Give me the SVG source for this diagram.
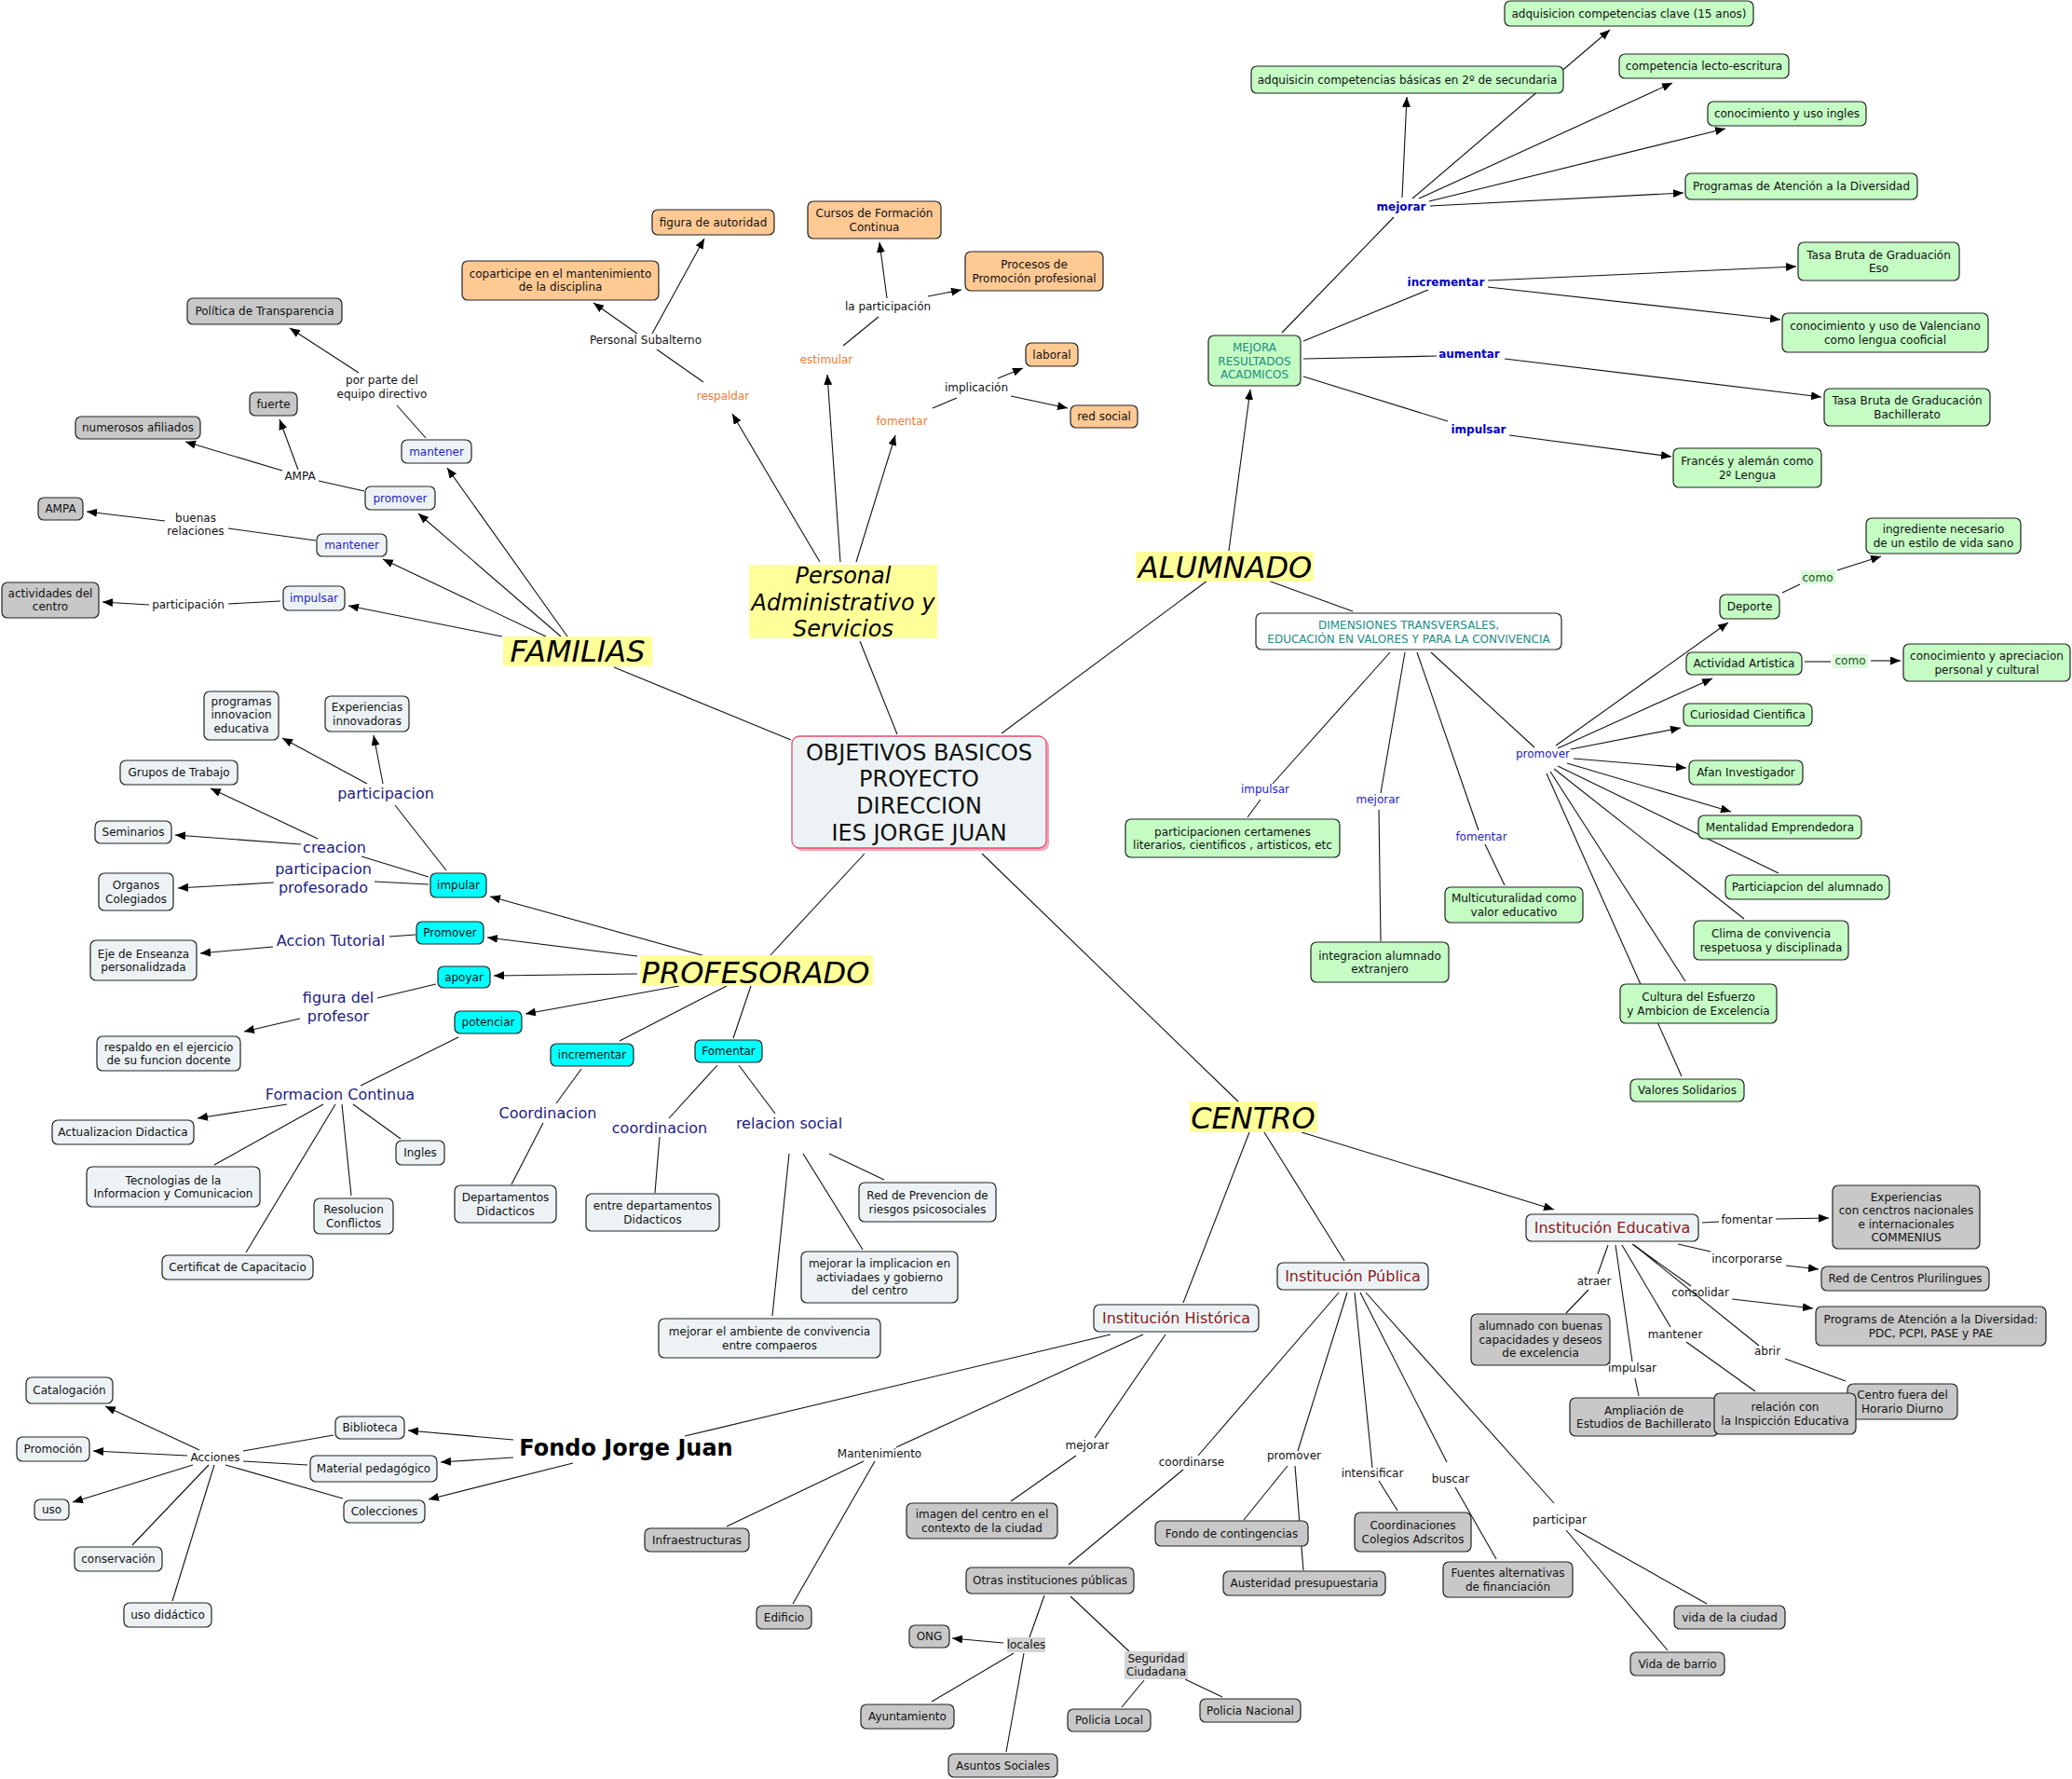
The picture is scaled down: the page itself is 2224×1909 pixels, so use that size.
<svg xmlns="http://www.w3.org/2000/svg" width="2224" height="1909" viewBox="0 0 2224 1909">
<defs>
<marker id="ah" markerUnits="userSpaceOnUse" markerWidth="12" markerHeight="10" refX="11" refY="4.5" orient="auto"><path d="M0,0 L11,4.5 L0,9 z" fill="#000"/></marker>
<style>
text{font-family:"DejaVu Sans","Liberation Sans",sans-serif;font-size:12px;fill:#111;text-anchor:middle}
.n{stroke:#222;stroke-width:1.2}
.gy{fill:#c8c8c8}
.lt{fill:#edf3f5}
.or{fill:#ffc994}
.gn{fill:#c4fcc4}
.cy{fill:#00ffff}
.wh{fill:#ffffff}
.e{stroke:#111;stroke-width:1.1;fill:none}
.a{marker-end:url(#ah)}
.bl{fill:#2424c8}
.nv{fill:#1c1c80;font-size:16px}
.bb{fill:#0000c8;font-weight:bold}
.og{fill:#ee7b30}
.tl{fill:#238b82}
.dr{fill:#8a1a1a;font-size:16px}
.big{font-size:32px;font-style:italic;fill:#000}
.pas{font-size:24px;font-style:italic;fill:#000}
.hl{fill:#ffff99}
.cm{fill:#0a5a0a}
</style>
</defs>
<rect width="2224" height="1909" fill="#fff"/>
<g id="connectors">
<path class="e a" d="M539 683L374 650"/>
<path class="e a" d="M586 683L411 600"/>
<path class="e a" d="M602 683L449 551"/>
<path class="e a" d="M609 683L480 502"/>
<path class="e" d="M457 470L426 435"/>
<path class="e a" d="M385 400L311 352"/>
<path class="e" d="M391 527L342 516"/>
<path class="e a" d="M320 504L300 450"/>
<path class="e a" d="M303 505L199 474"/>
<path class="e" d="M339 580L245 567"/>
<path class="e a" d="M177 559L93 549"/>
<path class="e" d="M301 645L245 648"/>
<path class="e a" d="M160 649L110 646"/>
<path class="e" d="M659 716L849 794"/>
<path class="e a" d="M880 603L786 444"/>
<path class="e" d="M755 410L705 375"/>
<path class="e a" d="M684 358L637 325"/>
<path class="e a" d="M700 358L756 256"/>
<path class="e a" d="M902 603L888 402"/>
<path class="e" d="M905 371L943 340"/>
<path class="e a" d="M952 320L944 260"/>
<path class="e a" d="M996 318L1032 311"/>
<path class="e a" d="M919 603L961 467"/>
<path class="e" d="M1001 438L1027 427"/>
<path class="e a" d="M1071 406L1098 395"/>
<path class="e a" d="M1085 425L1146 438"/>
<path class="e" d="M923 688L963 788"/>
<path class="e" d="M1075 787L1296 623"/>
<path class="e a" d="M1319 591L1342 418"/>
<path class="e" d="M1376 357L1496 233"/>
<path class="e a" d="M1505 212L1510 104"/>
<path class="e a" d="M1516 213L1728 32"/>
<path class="e a" d="M1523 213L1795 89"/>
<path class="e a" d="M1534 216L1852 138"/>
<path class="e a" d="M1535 221L1807 207"/>
<path class="e" d="M1399 366L1533 311"/>
<path class="e a" d="M1597 301L1928 286"/>
<path class="e a" d="M1597 308L1911 343"/>
<path class="e" d="M1399 385L1542 382"/>
<path class="e a" d="M1615 385L1955 426"/>
<path class="e" d="M1399 404L1554 452"/>
<path class="e a" d="M1620 467L1794 490"/>
<path class="e" d="M1361 623L1452 656"/>
<path class="e" d="M1492 700L1366 841"/>
<path class="e" d="M1353 858L1339 877"/>
<path class="e" d="M1508 700L1482 851"/>
<path class="e" d="M1480 869L1482 1010"/>
<path class="e" d="M1521 700L1587 891"/>
<path class="e" d="M1594 906L1615 950"/>
<path class="e" d="M1536 700L1647 802"/>
<path class="e a" d="M1670 800L1855 668"/>
<path class="e a" d="M1672 803L1838 728"/>
<path class="e a" d="M1686 804L1804 781"/>
<path class="e a" d="M1689 814L1810 824"/>
<path class="e a" d="M1682 819L1858 871"/>
<path class="e" d="M1672 822L1909 937"/>
<path class="e" d="M1668 825L1872 986"/>
<path class="e" d="M1664 828L1809 1053"/>
<path class="e" d="M1660 830L1805 1155"/>
<path class="e" d="M1913 636L1932 627"/>
<path class="e a" d="M1972 612L2019 597"/>
<path class="e" d="M1937 710L1965 710"/>
<path class="e a" d="M2008 709L2040 709"/>
<path class="e" d="M928 916L826 1026"/>
<path class="e a" d="M757 1026L526 962"/>
<path class="e a" d="M684 1026L523 1006"/>
<path class="e a" d="M684 1045L530 1047"/>
<path class="e a" d="M729 1058L564 1088"/>
<path class="e" d="M780 1058L665 1117"/>
<path class="e" d="M806 1058L787 1114"/>
<path class="e" d="M479 934L424 864"/>
<path class="e a" d="M394 841L303 792"/>
<path class="e a" d="M411 841L401 789"/>
<path class="e" d="M460 941L388 919"/>
<path class="e a" d="M341 900L226 846"/>
<path class="e a" d="M323 906L188 896"/>
<path class="e" d="M460 949L402 946"/>
<path class="e a" d="M294 947L191 953"/>
<path class="e" d="M446 1003L418 1005"/>
<path class="e a" d="M293 1016L215 1023"/>
<path class="e" d="M468 1056L405 1071"/>
<path class="e a" d="M322 1093L262 1107"/>
<path class="e" d="M492 1113L387 1165"/>
<path class="e a" d="M308 1185L212 1200"/>
<path class="e" d="M347 1185L230 1250"/>
<path class="e" d="M360 1185L264 1344"/>
<path class="e" d="M367 1185L377 1283"/>
<path class="e" d="M379 1185L430 1222"/>
<path class="e" d="M624 1147L597 1184"/>
<path class="e" d="M583 1205L549 1271"/>
<path class="e" d="M770 1143L718 1200"/>
<path class="e" d="M708 1220L703 1280"/>
<path class="e" d="M793 1143L832 1195"/>
<path class="e" d="M847 1238L829 1412"/>
<path class="e" d="M862 1238L926 1341"/>
<path class="e" d="M890 1238L949 1266"/>
<path class="e" d="M1054 916L1330 1183"/>
<path class="e" d="M1341 1215L1270 1398"/>
<path class="e" d="M1357 1215L1443 1353"/>
<path class="e a" d="M1397 1215L1668 1298"/>
<path class="e" d="M1192 1432L735 1541"/>
<path class="e" d="M1227 1432L962 1553"/>
<path class="e" d="M1251 1432L1175 1543"/>
<path class="e" d="M1155 1562L1085 1611"/>
<path class="e" d="M927 1568L780 1638"/>
<path class="e" d="M939 1568L851 1721"/>
<path class="e a" d="M551 1545L438 1535"/>
<path class="e a" d="M551 1564L473 1569"/>
<path class="e a" d="M615 1570L460 1609"/>
<path class="e" d="M358 1540L261 1557"/>
<path class="e" d="M330 1572L261 1568"/>
<path class="e" d="M368 1608L242 1572"/>
<path class="e a" d="M214 1556L113 1509"/>
<path class="e a" d="M201 1562L100 1557"/>
<path class="e a" d="M207 1572L78 1612"/>
<path class="e" d="M224 1572L142 1658"/>
<path class="e" d="M230 1572L185 1718"/>
<path class="e" d="M1437 1387L1286 1562"/>
<path class="e" d="M1270 1577L1147 1679"/>
<path class="e" d="M1121 1712L1105 1757"/>
<path class="e a" d="M1077 1763L1022 1758"/>
<path class="e" d="M1088 1774L1000 1826"/>
<path class="e" d="M1099 1774L1080 1880"/>
<path class="e" d="M1149 1713L1213 1773"/>
<path class="e" d="M1228 1803L1204 1832"/>
<path class="e" d="M1272 1802L1312 1821"/>
<path class="e" d="M1446 1387L1393 1557"/>
<path class="e" d="M1382 1573L1335 1631"/>
<path class="e" d="M1390 1573L1399 1685"/>
<path class="e" d="M1454 1387L1473 1575"/>
<path class="e" d="M1480 1589L1500 1621"/>
<path class="e" d="M1460 1387L1553 1569"/>
<path class="e" d="M1562 1596L1606 1673"/>
<path class="e" d="M1466 1387L1668 1613"/>
<path class="e" d="M1690 1641L1832 1721"/>
<path class="e" d="M1681 1642L1790 1771"/>
<path class="e" d="M1827 1312L1845 1311"/>
<path class="e a" d="M1906 1308L1963 1307"/>
<path class="e" d="M1801 1335L1836 1343"/>
<path class="e a" d="M1917 1358L1952 1362"/>
<path class="e" d="M1752 1335L1815 1380"/>
<path class="e a" d="M1859 1394L1946 1404"/>
<path class="e" d="M1754 1336L1888 1444"/>
<path class="e" d="M1916 1458L1981 1482"/>
<path class="e" d="M1741 1336L1793 1424"/>
<path class="e" d="M1810 1440L1884 1493"/>
<path class="e" d="M1734 1336L1752 1461"/>
<path class="e" d="M1755 1479L1759 1498"/>
<path class="e" d="M1726 1336L1715 1367"/>
<path class="e" d="M1705 1384L1681 1409"/>
</g>

<g id="center"><rect x="853" y="793" width="273" height="120" rx="8" fill="#f6a6b8"/><rect x="850" y="790" width="273" height="120" rx="8" fill="#edf3f5" stroke="#e0506e" stroke-width="1.3"/>
<text style="font-size:24px" x="986.5" y="815.5">OBJETIVOS BASICOS</text><text style="font-size:24px" x="986.5" y="844">PROYECTO</text><text style="font-size:24px" x="986.5" y="873">DIRECCION</text><text style="font-size:24px" x="986.5" y="901.5">IES JORGE JUAN</text></g>

<g id="familias"><rect class="hl" x="540" y="683" width="160" height="32"/><text class="big" x="620" y="710">FAMILIAS</text></g>
<g id="pas"><rect class="hl" x="804" y="606" width="202" height="79"/><text class="pas" x="905" y="626">Personal</text><text class="pas" x="905" y="655">Administrativo y</text><text class="pas" x="905" y="683">Servicios</text></g>
<g id="alumnado"><rect class="hl" x="1219" y="592" width="191" height="32"/><text class="big" x="1315" y="620">ALUMNADO</text></g>
<g id="profesorado"><rect class="hl" x="687" y="1025" width="250" height="33"/><text class="big" x="811" y="1055">PROFESORADO</text></g>
<g id="centro"><rect class="hl" x="1277" y="1182" width="137" height="33"/><text class="big" x="1345" y="1211">CENTRO</text></g>
<g id="fondo"><text x="672" y="1562" style="font-size:24px;font-weight:bold;fill:#000">Fondo Jorge Juan</text></g>

<g id="n-politica"><rect class="n gy" x="201" y="320" width="166" height="28" rx="6"/><text x="284" y="338">Política de Transparencia</text></g>
<g id="n-fuerte"><rect class="n gy" x="268" y="421" width="51" height="25" rx="6"/><text x="293.5" y="437.5">fuerte</text></g>
<g id="n-numerosos"><rect class="n gy" x="81" y="447" width="134" height="24" rx="6"/><text x="148" y="463">numerosos afiliados</text></g>
<g id="n-ampa"><rect class="n gy" x="41" y="534" width="48" height="24" rx="6"/><text x="65" y="550">AMPA</text></g>
<g id="n-actividades"><rect class="n gy" x="2" y="625" width="104" height="38" rx="6"/><text x="54" y="641">actividades del</text><text x="54" y="655">centro</text></g>
<g id="n-mantener1"><rect class="n lt" x="431" y="472" width="75" height="25" rx="6"/><text class="bl" x="468.5" y="488.5">mantener</text></g>
<g id="n-promover1"><rect class="n lt" x="392" y="522" width="75" height="25" rx="6"/><text class="bl" x="429.5" y="538.5">promover</text></g>
<g id="n-mantener2"><rect class="n lt" x="340" y="573" width="75" height="24" rx="6"/><text class="bl" x="377.5" y="589">mantener</text></g>
<g id="n-impulsar1"><rect class="n lt" x="304" y="629" width="66" height="26" rx="6"/><text class="bl" x="337" y="646">impulsar</text></g>

<g id="n-coparticipe"><rect class="n or" x="496" y="280" width="211" height="42" rx="6"/><text x="601.5" y="297.5">coparticipe en el mantenimiento</text><text x="601.5" y="312">de la disciplina</text></g>
<g id="n-figura"><rect class="n or" x="700" y="225" width="131" height="27" rx="6"/><text x="765.5" y="242.5">figura de autoridad</text></g>
<g id="n-cursos"><rect class="n or" x="867" y="216" width="143" height="40" rx="6"/><text x="938.5" y="233">Cursos de Formación</text><text x="938.5" y="247.5">Continua</text></g>
<g id="n-procesos"><rect class="n or" x="1036" y="270" width="148" height="42" rx="6"/><text x="1110" y="288">Procesos de</text><text x="1110" y="302.5">Promoción profesional</text></g>
<g id="n-laboral"><rect class="n or" x="1101" y="368" width="56" height="25" rx="6"/><text x="1129" y="384.5">laboral</text></g>
<g id="n-redsocial"><rect class="n or" x="1149" y="435" width="72" height="24" rx="6"/><text x="1185" y="451">red social</text></g>

<g id="n-clave"><rect class="n gn" x="1615" y="1" width="267" height="27" rx="6"/><text x="1748.5" y="18.5">adquisicion competencias clave (15 anos)</text></g>
<g id="n-adquisicin"><rect class="n gn" x="1343" y="71" width="335" height="29" rx="6"/><text x="1510.5" y="89.5">adquisicin competencias básicas en 2º de secundaria</text></g>
<g id="n-lecto"><rect class="n gn" x="1738" y="58" width="182" height="26" rx="6"/><text x="1829" y="75">competencia lecto-escritura</text></g>
<g id="n-ingles"><rect class="n gn" x="1833" y="109" width="170" height="26" rx="6"/><text x="1918" y="126">conocimiento y uso ingles</text></g>
<g id="n-programas"><rect class="n gn" x="1809" y="186" width="249" height="28" rx="6"/><text x="1933.5" y="204">Programas de Atención a la Diversidad</text></g>
<g id="n-tasaeso"><rect class="n gn" x="1930" y="260" width="173" height="41" rx="6"/><text x="2016.5" y="277.5">Tasa Bruta de Graduación</text><text x="2016.5" y="292">Eso</text></g>
<g id="n-valenciano"><rect class="n gn" x="1913" y="336" width="221" height="42" rx="6"/><text x="2023.5" y="354">conocimiento y uso de Valenciano</text><text x="2023.5" y="368.5">como lengua cooficial</text></g>
<g id="n-tasabach"><rect class="n gn" x="1958" y="417" width="178" height="40" rx="6"/><text x="2047" y="434">Tasa Bruta de Graducación</text><text x="2047" y="448.5">Bachillerato</text></g>
<g id="n-frances"><rect class="n gn" x="1796" y="481" width="159" height="42" rx="6"/><text x="1875.5" y="499">Francés y alemán como</text><text x="1875.5" y="513.5">2º Lengua</text></g>
<g id="n-mejora"><rect class="n gn" x="1297" y="360" width="99" height="54" rx="6"/><text class="tl" x="1346.5" y="377">MEJORA</text><text class="tl" x="1346.5" y="391.5">RESULTADOS</text><text class="tl" x="1346.5" y="406">ACADMICOS</text></g>
<g id="n-ingrediente"><rect class="n gn" x="2003" y="556" width="166" height="38" rx="6"/><text x="2086" y="572">ingrediente necesario</text><text x="2086" y="586.5">de un estilo de vida sano</text></g>
<g id="n-deporte"><rect class="n gn" x="1846" y="638" width="64" height="26" rx="6"/><text x="1878" y="655">Deporte</text></g>
<g id="n-actividad"><rect class="n gn" x="1810" y="700" width="124" height="24" rx="6"/><text x="1872" y="716">Actividad Artistica</text></g>
<g id="n-aprec"><rect class="n gn" x="2043" y="691" width="179" height="40" rx="6"/><text x="2132.5" y="708">conocimiento y apreciacion</text><text x="2132.5" y="722.5">personal y cultural</text></g>
<g id="n-curiosidad"><rect class="n gn" x="1807" y="755" width="138" height="24" rx="6"/><text x="1876" y="771">Curiosidad Cientifica</text></g>
<g id="n-afan"><rect class="n gn" x="1813" y="816" width="122" height="26" rx="6"/><text x="1874" y="833">Afan Investigador</text></g>
<g id="n-mentalidad"><rect class="n gn" x="1823" y="875" width="175" height="25" rx="6"/><text x="1910.5" y="891.5">Mentalidad Emprendedora</text></g>
<g id="n-particip"><rect class="n gn" x="1852" y="939" width="176" height="26" rx="6"/><text x="1940" y="956">Particiapcion del alumnado</text></g>
<g id="n-clima"><rect class="n gn" x="1818" y="988" width="166" height="42" rx="6"/><text x="1901" y="1006">Clima de convivencia</text><text x="1901" y="1020.5">respetuosa y disciplinada</text></g>
<g id="n-cultura"><rect class="n gn" x="1739" y="1056" width="168" height="42" rx="6"/><text x="1823" y="1074">Cultura del Esfuerzo</text><text x="1823" y="1088.5">y Ambicion de Excelencia</text></g>
<g id="n-valores"><rect class="n gn" x="1750" y="1158" width="122" height="24" rx="6"/><text x="1811" y="1174">Valores Solidarios</text></g>
<g id="n-certamenes"><rect class="n gn" x="1208" y="879" width="230" height="41" rx="6"/><text x="1323" y="896.5">participacionen certamenes</text><text x="1323" y="911">literarios, cientificos , artisticos, etc</text></g>
<g id="n-integracion"><rect class="n gn" x="1407" y="1011" width="148" height="43" rx="6"/><text x="1481" y="1029.5">integracion alumnado</text><text x="1481" y="1044">extranjero</text></g>
<g id="n-multi"><rect class="n gn" x="1551" y="952" width="148" height="38" rx="6"/><text x="1625" y="968">Multicuturalidad como</text><text x="1625" y="982.5">valor educativo</text></g>
<g id="n-dim"><rect class="n wh" x="1348" y="658" width="328" height="39" rx="6"/><text class="tl" x="1512" y="675">DIMENSIONES TRANSVERSALES,</text><text class="tl" x="1512" y="689.5">EDUCACIÓN EN VALORES Y PARA LA CONVIVENCIA</text></g>

<g id="n-programasinn"><rect class="n lt" x="219" y="742" width="80" height="52" rx="6"/><text x="259" y="756.5">programas</text><text x="259" y="771">innovacion</text><text x="259" y="785.5">educativa</text></g>
<g id="n-experiencias"><rect class="n lt" x="349" y="747" width="90" height="38" rx="6"/><text x="394" y="763">Experiencias</text><text x="394" y="777.5">innovadoras</text></g>
<g id="n-grupos"><rect class="n lt" x="129" y="816" width="126" height="26" rx="6"/><text x="192" y="833">Grupos de Trabajo</text></g>
<g id="n-seminarios"><rect class="n lt" x="102" y="881" width="82" height="24" rx="6"/><text x="143" y="897">Seminarios</text></g>
<g id="n-organos"><rect class="n lt" x="106" y="937" width="80" height="40" rx="6"/><text x="146" y="954">Organos</text><text x="146" y="968.5">Colegiados</text></g>
<g id="n-eje"><rect class="n lt" x="97" y="1009" width="114" height="43" rx="6"/><text x="154" y="1027.5">Eje de Enseanza</text><text x="154" y="1042">personalidzada</text></g>
<g id="n-respaldo"><rect class="n lt" x="104" y="1112" width="154" height="37" rx="6"/><text x="181" y="1127.5">respaldo en el ejercicio</text><text x="181" y="1142">de su funcion docente</text></g>
<g id="n-actualizacion"><rect class="n lt" x="56" y="1202" width="152" height="26" rx="6"/><text x="132" y="1219">Actualizacion Didactica</text></g>
<g id="n-tecnologias"><rect class="n lt" x="93" y="1252" width="186" height="43" rx="6"/><text x="186" y="1270.5">Tecnologias de la</text><text x="186" y="1285">Informacion y Comunicacion</text></g>
<g id="n-ingles2"><rect class="n lt" x="425" y="1224" width="52" height="26" rx="6"/><text x="451" y="1241">Ingles</text></g>
<g id="n-resolucion"><rect class="n lt" x="337" y="1286" width="85" height="38" rx="6"/><text x="379.5" y="1302">Resolucion</text><text x="379.5" y="1316.5">Conflictos</text></g>
<g id="n-certificat"><rect class="n lt" x="174" y="1347" width="162" height="26" rx="6"/><text x="255" y="1364">Certificat de Capacitacio</text></g>
<g id="n-departamentos"><rect class="n lt" x="488" y="1272" width="109" height="40" rx="6"/><text x="542.5" y="1289">Departamentos</text><text x="542.5" y="1303.5">Didacticos</text></g>
<g id="n-entre"><rect class="n lt" x="629" y="1281" width="143" height="40" rx="6"/><text x="700.5" y="1298">entre departamentos</text><text x="700.5" y="1312.5">Didacticos</text></g>
<g id="n-redprev"><rect class="n lt" x="922" y="1269" width="147" height="42" rx="6"/><text x="995.5" y="1287">Red de Prevencion de</text><text x="995.5" y="1301.5">riesgos psicosociales</text></g>
<g id="n-implicacion"><rect class="n lt" x="860" y="1343" width="168" height="55" rx="6"/><text x="944" y="1360">mejorar la implicacion en</text><text x="944" y="1374.5">activiadaes y gobierno</text><text x="944" y="1389">del centro</text></g>
<g id="n-ambiente"><rect class="n lt" x="707" y="1415" width="238" height="42" rx="6"/><text x="826" y="1433">mejorar el ambiente de convivencia</text><text x="826" y="1447.5">entre compaeros</text></g>
<g id="n-impular"><rect class="n cy" x="462" y="937" width="60" height="26" rx="6"/><text x="492" y="954">impular</text></g>
<g id="n-promover2"><rect class="n cy" x="447" y="989" width="72" height="24" rx="6"/><text x="483" y="1005">Promover</text></g>
<g id="n-apoyar"><rect class="n cy" x="470" y="1037" width="56" height="23" rx="6"/><text x="498" y="1052.5">apoyar</text></g>
<g id="n-potenciar"><rect class="n cy" x="488" y="1085" width="72" height="24" rx="6"/><text x="524" y="1101">potenciar</text></g>
<g id="n-incrementar2"><rect class="n cy" x="591" y="1120" width="89" height="24" rx="6"/><text x="635.5" y="1136">incrementar</text></g>
<g id="n-fomentar2"><rect class="n cy" x="746" y="1116" width="72" height="24" rx="6"/><text x="782" y="1132">Fomentar</text></g>

<g id="n-catalogacion"><rect class="n lt" x="28" y="1478" width="93" height="28" rx="6"/><text x="74.5" y="1496">Catalogación</text></g>
<g id="n-promocion"><rect class="n lt" x="18" y="1542" width="78" height="26" rx="6"/><text x="57" y="1559">Promoción</text></g>
<g id="n-uso"><rect class="n lt" x="37" y="1609" width="37" height="22" rx="6"/><text x="55.5" y="1624">uso</text></g>
<g id="n-conservacion"><rect class="n lt" x="80" y="1660" width="94" height="26" rx="6"/><text x="127" y="1677">conservación</text></g>
<g id="n-usodid"><rect class="n lt" x="133" y="1720" width="94" height="26" rx="6"/><text x="180" y="1737">uso didáctico</text></g>
<g id="n-biblioteca"><rect class="n lt" x="360" y="1520" width="74" height="24" rx="6"/><text x="397" y="1536">Biblioteca</text></g>
<g id="n-material"><rect class="n lt" x="333" y="1562" width="136" height="28" rx="6"/><text x="401" y="1580">Material pedagógico</text></g>
<g id="n-colecciones"><rect class="n lt" x="369" y="1610" width="87" height="24" rx="6"/><text x="412.5" y="1626">Colecciones</text></g>

<g id="n-historica"><rect class="n lt" x="1174" y="1400" width="177" height="29" rx="6"/><text class="dr" x="1262.5" y="1420">Institución Histórica</text></g>
<g id="n-publica"><rect class="n lt" x="1371" y="1355" width="162" height="29" rx="6"/><text class="dr" x="1452" y="1375">Institución Pública</text></g>
<g id="n-educativa"><rect class="n lt" x="1638" y="1303" width="185" height="29" rx="6"/><text class="dr" x="1730.5" y="1323">Institución Educativa</text></g>

<g id="n-infra"><rect class="n gy" x="692" y="1640" width="112" height="25" rx="6"/><text x="748" y="1656.5">Infraestructuras</text></g>
<g id="n-edificio"><rect class="n gy" x="812" y="1723" width="59" height="25" rx="6"/><text x="841.5" y="1739.5">Edificio</text></g>
<g id="n-imagen"><rect class="n gy" x="973" y="1613" width="162" height="38" rx="6"/><text x="1054" y="1629">imagen del centro en el</text><text x="1054" y="1643.5">contexto de la ciudad</text></g>
<g id="n-otras"><rect class="n gy" x="1037" y="1682" width="180" height="28" rx="6"/><text x="1127" y="1700">Otras instituciones públicas</text></g>
<g id="n-ong"><rect class="n gy" x="976" y="1744" width="43" height="24" rx="6"/><text x="997.5" y="1760">ONG</text></g>
<g id="n-ayuntamiento"><rect class="n gy" x="924" y="1829" width="100" height="26" rx="6"/><text x="974" y="1846">Ayuntamiento</text></g>
<g id="n-asuntos"><rect class="n gy" x="1018" y="1882" width="117" height="25" rx="6"/><text x="1076.5" y="1898.5">Asuntos Sociales</text></g>
<g id="n-polloc"><rect class="n gy" x="1146" y="1834" width="89" height="24" rx="6"/><text x="1190.5" y="1850">Policia Local</text></g>
<g id="n-polnac"><rect class="n gy" x="1288" y="1823" width="108" height="25" rx="6"/><text x="1342" y="1839.5">Policia Nacional</text></g>
<g id="n-fondocont"><rect class="n gy" x="1240" y="1632" width="164" height="27" rx="6"/><text x="1322" y="1649.5">Fondo de contingencias</text></g>
<g id="n-austeridad"><rect class="n gy" x="1313" y="1686" width="174" height="26" rx="6"/><text x="1400" y="1703">Austeridad presupuestaria</text></g>
<g id="n-coordinaciones"><rect class="n gy" x="1454" y="1623" width="125" height="42" rx="6"/><text x="1516.5" y="1641">Coordinaciones</text><text x="1516.5" y="1655.5">Colegios Adscritos</text></g>
<g id="n-fuentes"><rect class="n gy" x="1549" y="1676" width="139" height="38" rx="6"/><text x="1618.5" y="1692">Fuentes alternativas</text><text x="1618.5" y="1706.5">de financiación</text></g>
<g id="n-vidaciudad"><rect class="n gy" x="1797" y="1723" width="119" height="25" rx="6"/><text x="1856.5" y="1739.5">vida de la ciudad</text></g>
<g id="n-vidabarrio"><rect class="n gy" x="1750" y="1773" width="101" height="25" rx="6"/><text x="1800.5" y="1789.5">Vida de barrio</text></g>
<g id="n-alumnado"><rect class="n gy" x="1579" y="1410" width="149" height="55" rx="6"/><text x="1653.5" y="1427">alumnado con buenas</text><text x="1653.5" y="1441.5">capacidades y deseos</text><text x="1653.5" y="1456">de excelencia</text></g>
<g id="n-commenius"><rect class="n gy" x="1967" y="1272" width="158" height="68" rx="6"/><text x="2046" y="1288.5">Experiencias</text><text x="2046" y="1303">con cenctros nacionales</text><text x="2046" y="1317.5">e internacionales</text><text x="2046" y="1332">COMMENIUS</text></g>
<g id="n-redcentros"><rect class="n gy" x="1955" y="1359" width="180" height="26" rx="6"/><text x="2045" y="1376">Red de Centros Plurilingues</text></g>
<g id="n-programs"><rect class="n gy" x="1949" y="1402" width="247" height="42" rx="6"/><text x="2072.5" y="1420">Programs de Atención a la Diversidad:</text><text x="2072.5" y="1434.5">PDC, PCPI, PASE y PAE</text></g>
<g id="n-ampliacion"><rect class="n gy" x="1685" y="1500" width="159" height="41" rx="6"/><text x="1764.5" y="1517.5">Ampliación de</text><text x="1764.5" y="1532">Estudios de Bachillerato</text></g>
<g id="n-centrofuera"><rect class="n gy" x="1983" y="1485" width="118" height="38" rx="6"/><text x="2042" y="1501">Centro fuera del</text><text x="2042" y="1515.5">Horario Diurno</text></g>
<g id="n-relacion"><rect class="n gy" x="1840" y="1495" width="152" height="44" rx="6"/><text x="1916" y="1514">relación con</text><text x="1916" y="1528.5">la Inspicción Educativa</text></g>

<g id="labels">
<g id="l-porparte"><text x="410" y="412">por parte del</text><text x="410" y="427">equipo directivo</text></g>
<g id="l-ampa"><text x="322" y="515">AMPA</text></g>
<g id="l-buenas"><text x="210" y="560">buenas</text><text x="210" y="574">relaciones</text></g>
<g id="l-participacion"><text x="202" y="653">participación</text></g>
<g id="l-subalterno"><text x="693" y="369">Personal Subalterno</text></g>
<g id="l-laparticipacion"><text x="953" y="333">la participación</text></g>
<g id="l-implicacion"><text x="1048" y="420">implicación</text></g>
<g id="l-respaldar"><text class="og" x="776" y="429">respaldar</text></g>
<g id="l-estimular"><text class="og" x="887" y="390">estimular</text></g>
<g id="l-fomentar1"><text class="og" x="968" y="456">fomentar</text></g>
<g id="l-mejorar1"><text class="bb" x="1504" y="226">mejorar</text></g>
<g id="l-incrementar1"><text class="bb" x="1552" y="307">incrementar</text></g>
<g id="l-aumentar"><text class="bb" x="1577" y="384">aumentar</text></g>
<g id="l-impulsar2"><text class="bb" x="1587" y="465">impulsar</text></g>
<g id="l-impulsar3"><text class="bl" x="1358" y="851">impulsar</text></g>
<g id="l-mejorar2"><text class="bl" x="1479" y="862">mejorar</text></g>
<g id="l-fomentar3"><text class="bl" x="1590" y="902">fomentar</text></g>
<g id="l-promover3"><text class="bl" x="1656" y="813">promover</text></g>
<g id="l-como1"><rect x="1933" y="612" width="37" height="15" fill="#dcf8dc"/><text class="cm" x="1951" y="624">como</text></g>
<g id="l-como2"><rect x="1967" y="702" width="38" height="15" fill="#dcf8dc"/><text class="cm" x="1986" y="713">como</text></g>
<g id="l-participacion2"><text class="nv" x="414" y="857">participacion</text></g>
<g id="l-creacion"><text class="nv" x="359" y="915">creacion</text></g>
<g id="l-partprof"><text class="nv" x="347" y="938">participacion</text><text class="nv" x="347" y="958">profesorado</text></g>
<g id="l-accion"><text class="nv" x="355" y="1015">Accion Tutorial</text></g>
<g id="l-figuraprof"><text class="nv" x="363" y="1076">figura del</text><text class="nv" x="363" y="1096">profesor</text></g>
<g id="l-formacion"><text class="nv" x="365" y="1180">Formacion Continua</text></g>
<g id="l-coordinacion1"><text class="nv" x="588" y="1200">Coordinacion</text></g>
<g id="l-coordinacion2"><text class="nv" x="708" y="1216">coordinacion</text></g>
<g id="l-relacionsocial"><text class="nv" x="847" y="1211">relacion social</text></g>
<g id="l-acciones"><text x="231" y="1568">Acciones</text></g>
<g id="l-mantenimiento"><text x="944" y="1564">Mantenimiento</text></g>
<g id="l-mejorar3"><text x="1167" y="1555">mejorar</text></g>
<g id="l-coordinarse"><text x="1279" y="1573">coordinarse</text></g>
<g id="l-promover4"><text x="1389" y="1566">promover</text></g>
<g id="l-intensificar"><text x="1473" y="1585">intensificar</text></g>
<g id="l-buscar"><text x="1557" y="1591">buscar</text></g>
<g id="l-participar"><text x="1674" y="1635">participar</text></g>
<g id="l-locales"><rect x="1081" y="1757" width="41" height="16" fill="#d4d4d4"/><text x="1101.5" y="1769">locales</text></g>
<g id="l-seguridad"><rect x="1207" y="1772" width="68" height="30" fill="#d4d4d4"/><text x="1241" y="1784">Seguridad</text><text x="1241" y="1798">Ciudadana</text></g>
<g id="l-fomentar4"><text x="1875" y="1313">fomentar</text></g>
<g id="l-incorporarse"><text x="1875" y="1355">incorporarse</text></g>
<g id="l-consolidar"><text x="1825" y="1391">consolidar</text></g>
<g id="l-abrir"><text x="1897" y="1454">abrir</text></g>
<g id="l-mantener3"><text x="1798" y="1436">mantener</text></g>
<g id="l-impulsar4"><text x="1752" y="1472">impulsar</text></g>
<g id="l-atraer"><text x="1711" y="1379">atraer</text></g>
</g>
</svg>
